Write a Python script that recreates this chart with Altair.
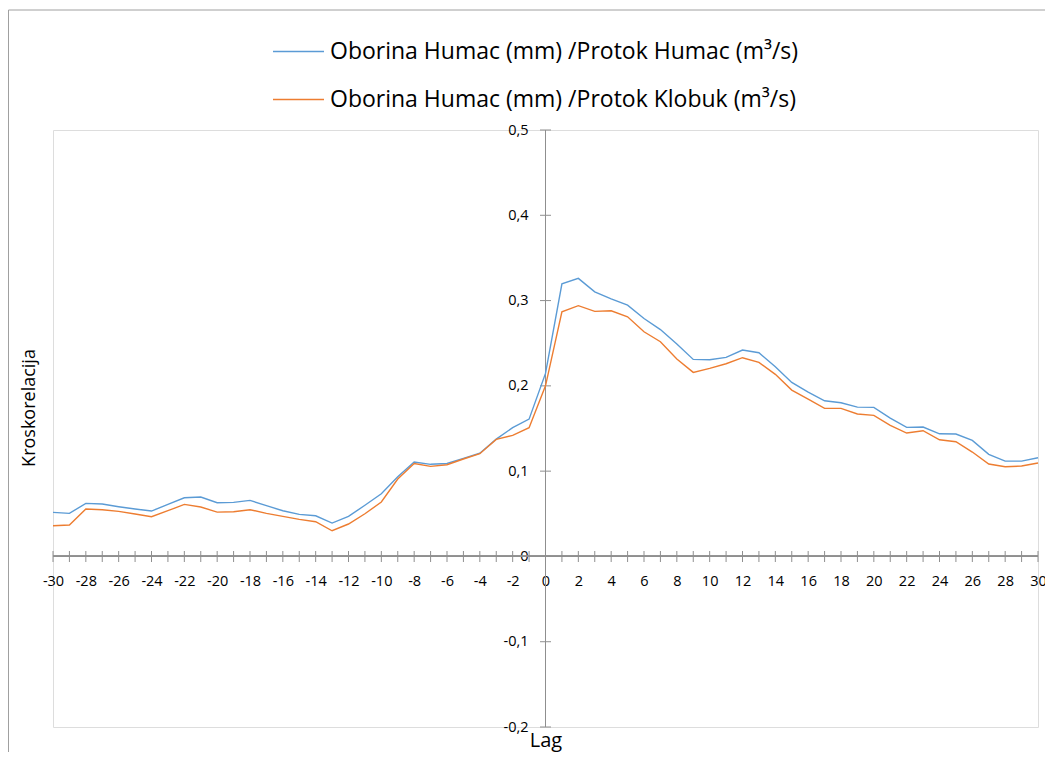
import altair as alt
import pandas as pd

lags = list(range(-30, 31))
lag_labels = list(range(-30, 31, 2))

humac = [0.0517, 0.0505, 0.0622, 0.0614, 0.0583, 0.0556, 0.0532, 0.061, 0.0688, 0.0696,
         0.063, 0.0634, 0.0657, 0.0595, 0.0536, 0.0493, 0.0477, 0.0391, 0.047, 0.060,
         0.0735, 0.0934, 0.1107, 0.108, 0.109, 0.115, 0.121, 0.1376, 0.151, 0.161,
         0.2146,
         0.3197, 0.326, 0.3103, 0.302, 0.2947, 0.279, 0.266, 0.249, 0.231, 0.2306,
         0.2334, 0.242, 0.2388, 0.2224, 0.204, 0.1927, 0.1825, 0.1802, 0.1751, 0.1748,
         0.1622, 0.1513, 0.1517, 0.1438, 0.1435, 0.136, 0.1197, 0.1118, 0.1118, 0.1157]

klobuk = [0.036, 0.0368, 0.0556, 0.0548, 0.0528, 0.0497, 0.0466, 0.0536, 0.061, 0.0579,
          0.052, 0.0524, 0.0548, 0.0505, 0.047, 0.0435, 0.0407, 0.0301, 0.038, 0.050,
          0.0638, 0.0907, 0.109, 0.1056, 0.1075, 0.1142, 0.1204, 0.1372, 0.142, 0.151,
          0.200,
          0.2869, 0.294, 0.2873, 0.288, 0.281, 0.2634, 0.2517, 0.2314, 0.2158, 0.2205,
          0.2259, 0.233, 0.2275, 0.2135, 0.195, 0.1845, 0.1736, 0.1736, 0.167, 0.1654,
          0.1537, 0.1447, 0.1474, 0.1368, 0.1345, 0.1224, 0.1083, 0.1052, 0.106, 0.1095]

series_names = ["Oborina Humac (mm) /Protok Humac  (m³/s)",
                "Oborina Humac (mm) /Protok Klobuk (m³/s)"]
series_colors = ["#5b9bd5", "#ed7d31"]
y_ticks = [-0.2, -0.1, 0.0, 0.1, 0.2, 0.3, 0.4, 0.5]

rows = []
for name, vals in zip(series_names, [humac, klobuk]):
    for l, v in zip(lags, vals):
        rows.append({"lag": l, "value": v, "series": name})
df = pd.DataFrame(rows)

FONT = "Open Sans"
AXC = "#8f8f8f"
W, H = 985, 597

xscale = alt.Scale(domain=[-30, 30], nice=False, zero=False)
yscale = alt.Scale(domain=[-0.2, 0.5], nice=False, zero=False)

xaxis = alt.Axis(values=lag_labels, title=None, domain=False, grid=False,
                 offset=-176.3, tickSize=11, tickOpacity=0,
                 labelExpr="toString(datum.value)",
                 labelPadding=13, labelFontSize=14.5, labelFont=FONT,
                 labelColor="#000000", labelOverlap=False, labelFlush=False,
                 labelBound=False)
yaxis = alt.Axis(values=y_ticks, title=None, domain=False, grid=False,
                 offset=-498, tickSize=11, tickOpacity=0,
                 labelExpr="replace(toString(round(datum.value*10)/10), '.', ',')",
                 labelPadding=12, labelFontSize=14.5, labelFont=FONT,
                 labelColor="#000000", labelOverlap=False, labelFlush=False)

lines = alt.Chart(df).mark_line(strokeWidth=1.4).encode(
    x=alt.X("lag:Q", scale=xscale, axis=xaxis),
    y=alt.Y("value:Q", scale=yscale, axis=yaxis),
    color=alt.Color("series:N",
                    scale=alt.Scale(domain=series_names, range=series_colors),
                    legend=alt.Legend(title=None, orient="none", legendX=219, legendY=-105,
                                      symbolType="stroke", symbolSize=2601,
                                      symbolStrokeWidth=1.5, labelOffset=5,
                                      labelFontSize=23, labelFont=FONT, labelColor="#000000",
                                      labelLimit=800, rowPadding=9, padding=0)),
)

yaxis_line = alt.Chart(df).mark_rule(color=AXC, strokeWidth=1).encode(
    x=alt.datum(0, scale=xscale, axis=xaxis))
xaxis_line = alt.Chart(df).mark_rule(color=AXC, strokeWidth=1).encode(
    y=alt.datum(0, scale=yscale, axis=yaxis))

xticks = alt.Chart(pd.DataFrame({"lag": lags})).mark_tick(
    orient="vertical", size=11, thickness=1, color=AXC, opacity=1
).encode(x=alt.X("lag:Q", scale=xscale, axis=xaxis),
         y=alt.datum(0, scale=yscale, axis=yaxis))

yticks = alt.Chart(pd.DataFrame({"v": y_ticks})).mark_tick(
    orient="horizontal", size=11, thickness=1, color=AXC, opacity=1
).encode(y=alt.Y("v:Q", scale=yscale, axis=yaxis),
         x=alt.datum(0, scale=xscale, axis=xaxis))

ytitle = alt.Chart(pd.DataFrame({"t": ["Kroskorelacija"]})).mark_text(
    angle=270, fontSize=18, font=FONT, color="#000000", align="center", baseline="middle"
).encode(text="t:N", x=alt.value(-23), y=alt.value(278))

xtitle = alt.Chart(pd.DataFrame({"t": ["Lag"]})).mark_text(
    fontSize=20, font=FONT, color="#000000", align="center", baseline="middle"
).encode(text="t:N", x=alt.value(493), y=alt.value(611))

outer_left = alt.Chart(pd.DataFrame({"a": [0]})).mark_rule(color="#a0a0a0", strokeWidth=1).encode(
    x=alt.value(-44.5), y=alt.value(-120), y2=alt.value(640))
outer_top = alt.Chart(pd.DataFrame({"a": [0]})).mark_rule(color="#a0a0a0", strokeWidth=1).encode(
    x=alt.value(-44.5), x2=alt.value(1000), y=alt.value(-120))

chart = alt.layer(yaxis_line, xaxis_line, xticks, yticks, lines, ytitle, xtitle,
                  outer_left, outer_top).properties(
    width=W, height=H,
    autosize=alt.AutoSizeParams(type="none"),
    padding={"left": 45, "top": 122, "right": 7, "bottom": 25},
).configure_view(stroke="#a6a6a6", strokeWidth=1).configure(background="white")

chart.save("out.html", embed_options={"renderer": "svg", "actions": False})
